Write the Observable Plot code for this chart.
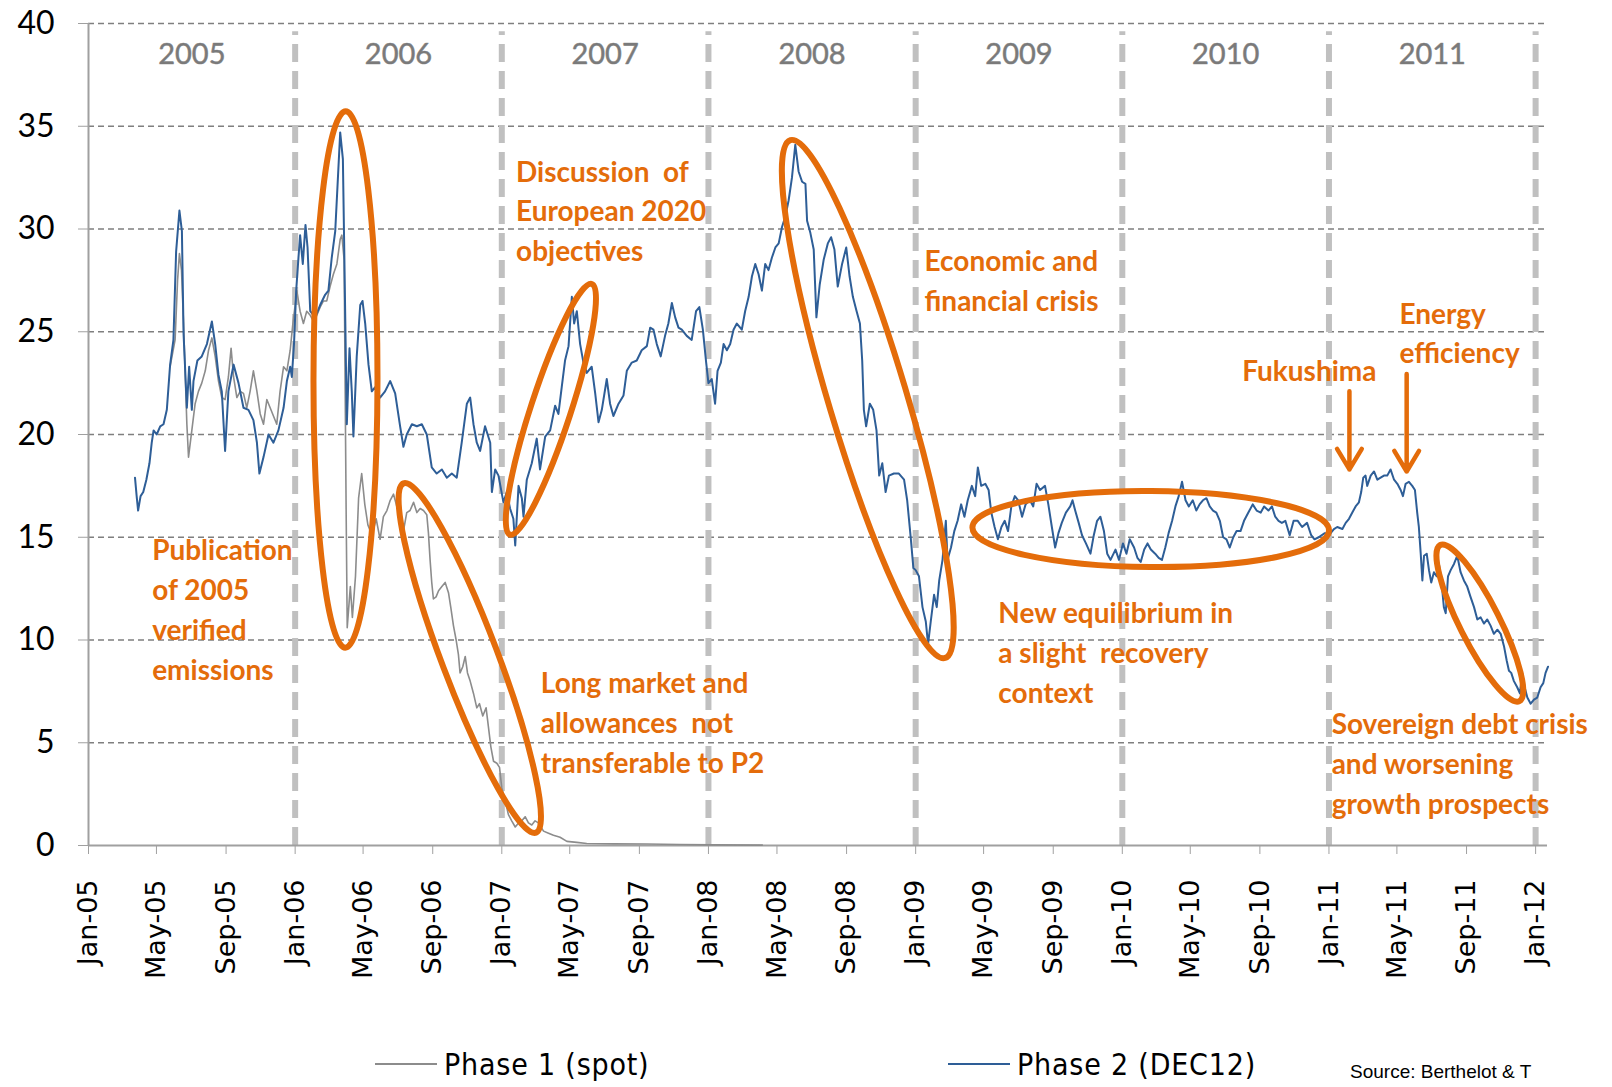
<!DOCTYPE html>
<html><head><meta charset="utf-8">
<script src="https://cdn.jsdelivr.net/npm/d3@7"></script>
<script src="https://cdn.jsdelivr.net/npm/@observablehq/plot@0.6"></script>
<style>
body{margin:0;background:#fff;}
#wrap{position:relative;width:1612px;height:1087px;overflow:hidden;background:#fff;}
#legend{position:absolute;left:0;top:1040px;width:1300px;height:47px;font-family:"DejaVu Sans Condensed","Liberation Sans Narrow",sans-serif;font-size:30px;letter-spacing:0.8px;color:#000;}
.item{position:absolute;top:6px;height:36px;display:flex;align-items:center;}
.sw{display:inline-block;width:62px;height:0;border-top:2.5px solid;margin-right:7px;}
#source{position:absolute;left:1350px;top:1061px;font-family:"Liberation Sans",Arial,sans-serif;font-size:19px;line-height:22px;color:#000;white-space:nowrap;}
</style></head>
<body><div id="wrap"><div id="chart"></div>
<div id="legend"></div>
<div id="source">Source: Berthelot &amp; T</div>
</div>
<script>
// ---- data (decimal year, €/t) ----
const phase1 = [[2005.395,23.3],[2005.419,24.6],[2005.431,27.5],[2005.440,28.8],[2005.450,28.0],[2005.460,25.4],[2005.476,20.5],[2005.484,18.9],[2005.500,20.2],[2005.516,21.5],[2005.532,22.1],[2005.548,22.5],[2005.565,23.1],[2005.581,24.1],[2005.597,24.7],[2005.613,23.8],[2005.629,22.6],[2005.645,21.8],[2005.661,21.7],[2005.677,22.8],[2005.690,24.2],[2005.702,22.8],[2005.718,21.8],[2005.734,22.1],[2005.750,22.0],[2005.766,21.3],[2005.782,22.1],[2005.798,23.1],[2005.815,22.1],[2005.831,21.0],[2005.847,20.5],[2005.863,21.7],[2005.879,21.3],[2005.895,20.9],[2005.911,20.5],[2005.927,22.1],[2005.944,23.3],[2005.960,23.1],[2005.976,24.1],[2005.989,25.4],[2006.000,26.3],[2006.008,27.0],[2006.024,26.0],[2006.040,25.4],[2006.056,26.0],[2006.073,25.8],[2006.089,25.5],[2006.105,25.8],[2006.121,26.2],[2006.137,26.5],[2006.153,26.5],[2006.169,27.2],[2006.185,27.8],[2006.202,28.3],[2006.218,29.5],[2006.226,29.7],[2006.237,28.5],[2006.247,16.0],[2006.252,10.6],[2006.267,12.6],[2006.277,11.1],[2006.292,13.1],[2006.307,16.9],[2006.322,18.1],[2006.337,16.6],[2006.352,15.6],[2006.372,15.1],[2006.392,15.9],[2006.411,14.9],[2006.427,16.0],[2006.444,16.3],[2006.460,16.8],[2006.476,17.1],[2006.492,16.5],[2006.508,16.2],[2006.524,15.3],[2006.540,16.2],[2006.556,16.3],[2006.573,16.7],[2006.589,16.2],[2006.605,16.4],[2006.621,16.3],[2006.637,16.1],[2006.645,15.2],[2006.653,13.9],[2006.661,12.8],[2006.669,12.0],[2006.682,12.1],[2006.694,12.4],[2006.710,12.6],[2006.726,12.8],[2006.742,12.3],[2006.753,11.6],[2006.766,10.7],[2006.779,10.0],[2006.790,9.3],[2006.798,8.4],[2006.811,8.7],[2006.823,9.2],[2006.834,8.4],[2006.847,8.0],[2006.863,7.4],[2006.879,6.7],[2006.892,6.9],[2006.908,6.3],[2006.924,6.7],[2006.935,5.8],[2006.947,4.8],[2006.960,4.1],[2006.976,4.0],[2006.989,3.8],[2007.000,2.8],[2007.016,2.2],[2007.032,1.5],[2007.048,1.2],[2007.065,0.9],[2007.081,1.1],[2007.097,1.2],[2007.113,1.4],[2007.129,1.1],[2007.145,1.0],[2007.161,1.2],[2007.177,1.1],[2007.202,0.7],[2007.226,0.6],[2007.250,0.5],[2007.282,0.4],[2007.315,0.2],[2007.363,0.15],[2007.411,0.1],[2007.540,0.08],[2007.702,0.07],[2007.863,0.05],[2008.024,0.03],[2008.260,0.02]];

const phase2 = [[2005.225,17.9],[2005.233,17.0],[2005.240,16.3],[2005.252,17.0],[2005.265,17.2],[2005.280,17.8],[2005.295,18.6],[2005.306,19.6],[2005.315,20.2],[2005.330,20.0],[2005.347,20.4],[2005.363,20.5],[2005.379,21.2],[2005.395,23.4],[2005.411,24.6],[2005.424,28.9],[2005.440,30.9],[2005.452,29.9],[2005.460,24.9],[2005.476,21.3],[2005.487,23.3],[2005.500,21.2],[2005.508,22.6],[2005.527,23.6],[2005.548,23.8],[2005.573,24.4],[2005.597,25.5],[2005.613,24.4],[2005.629,22.9],[2005.645,22.1],[2005.661,19.2],[2005.677,22.1],[2005.702,23.4],[2005.726,22.5],[2005.750,21.3],[2005.774,21.2],[2005.798,20.7],[2005.815,19.6],[2005.827,18.1],[2005.847,18.9],[2005.871,20.0],[2005.895,19.6],[2005.919,20.2],[2005.944,21.3],[2005.960,22.6],[2005.976,23.3],[2005.984,22.8],[2005.995,24.5],[2006.005,27.0],[2006.016,28.6],[2006.024,29.7],[2006.037,28.3],[2006.050,30.2],[2006.060,29.1],[2006.073,26.0],[2006.097,25.7],[2006.121,26.3],[2006.145,26.8],[2006.161,27.0],[2006.177,28.6],[2006.194,29.9],[2006.205,32.1],[2006.218,34.7],[2006.231,33.4],[2006.237,29.4],[2006.250,20.5],[2006.263,24.2],[2006.274,22.1],[2006.282,19.9],[2006.298,23.8],[2006.315,26.3],[2006.326,26.5],[2006.339,25.4],[2006.355,23.4],[2006.371,22.1],[2006.387,22.3],[2006.411,21.8],[2006.435,22.1],[2006.460,22.6],[2006.484,22.0],[2006.508,20.4],[2006.524,19.4],[2006.540,20.0],[2006.565,20.5],[2006.589,20.4],[2006.613,20.5],[2006.637,20.0],[2006.661,18.4],[2006.685,18.1],[2006.710,18.3],[2006.734,17.9],[2006.758,18.1],[2006.782,17.9],[2006.806,19.6],[2006.831,21.5],[2006.847,21.8],[2006.863,20.5],[2006.879,19.6],[2006.895,19.2],[2006.919,20.4],[2006.944,19.6],[2006.952,17.2],[2006.968,18.3],[2006.984,18.0],[2007.008,16.7],[2007.024,17.2],[2007.040,16.4],[2007.056,15.9],[2007.065,14.6],[2007.081,17.5],[2007.097,16.9],[2007.105,16.0],[2007.121,17.8],[2007.145,18.6],[2007.169,19.8],[2007.185,18.3],[2007.210,19.9],[2007.234,20.2],[2007.258,21.4],[2007.274,21.0],[2007.290,22.3],[2007.306,23.6],[2007.323,24.3],[2007.339,26.7],[2007.350,25.4],[2007.363,26.0],[2007.379,24.4],[2007.395,23.5],[2007.411,23.0],[2007.435,23.3],[2007.452,22.0],[2007.468,20.6],[2007.484,21.2],[2007.508,22.7],[2007.524,21.5],[2007.540,20.9],[2007.565,21.5],[2007.589,21.9],[2007.605,23.1],[2007.629,23.5],[2007.653,23.6],[2007.677,24.1],[2007.702,24.3],[2007.718,25.2],[2007.734,25.1],[2007.750,24.4],[2007.769,23.8],[2007.790,24.8],[2007.806,25.4],[2007.823,26.4],[2007.839,25.7],[2007.855,25.2],[2007.871,25.1],[2007.895,24.8],[2007.919,24.6],[2007.940,26.0],[2007.956,26.2],[2007.973,25.1],[2007.989,23.5],[2008.000,22.5],[2008.016,22.7],[2008.032,21.5],[2008.044,23.1],[2008.060,23.5],[2008.073,24.4],[2008.089,24.1],[2008.105,24.4],[2008.121,25.1],[2008.137,25.4],[2008.161,25.1],[2008.177,26.0],[2008.194,26.7],[2008.210,27.7],[2008.226,28.3],[2008.242,27.8],[2008.258,27.0],[2008.274,28.3],[2008.290,28.0],[2008.306,28.6],[2008.323,29.1],[2008.339,29.3],[2008.355,30.1],[2008.371,30.6],[2008.387,31.4],[2008.403,32.5],[2008.419,34.1],[2008.435,32.8],[2008.452,32.3],[2008.468,32.2],[2008.476,30.4],[2008.492,29.8],[2008.508,29.0],[2008.521,25.7],[2008.537,27.3],[2008.556,28.5],[2008.576,29.3],[2008.592,29.6],[2008.608,29.0],[2008.624,27.2],[2008.645,28.3],[2008.665,29.1],[2008.681,27.7],[2008.697,26.7],[2008.715,26.0],[2008.731,25.4],[2008.742,23.6],[2008.750,21.2],[2008.761,20.4],[2008.779,21.5],[2008.795,21.2],[2008.811,20.2],[2008.824,18.0],[2008.839,18.6],[2008.855,17.2],[2008.871,18.0],[2008.895,18.1],[2008.919,18.1],[2008.944,17.8],[2008.959,16.8],[2008.976,15.0],[2008.989,13.5],[2009.000,13.4],[2009.016,13.1],[2009.033,11.6],[2009.049,10.9],[2009.060,9.8],[2009.073,10.9],[2009.089,12.2],[2009.102,11.6],[2009.114,12.9],[2009.130,13.9],[2009.146,15.8],[2009.154,13.9],[2009.171,14.5],[2009.187,15.3],[2009.203,15.8],[2009.220,16.6],[2009.236,16.0],[2009.252,16.8],[2009.272,17.5],[2009.288,17.0],[2009.301,18.4],[2009.317,17.5],[2009.337,17.6],[2009.353,17.3],[2009.366,16.2],[2009.382,15.5],[2009.398,14.9],[2009.415,15.5],[2009.431,15.8],[2009.447,15.3],[2009.463,16.5],[2009.480,17.0],[2009.496,16.8],[2009.515,16.0],[2009.532,16.6],[2009.553,16.8],[2009.569,16.5],[2009.585,17.6],[2009.602,17.3],[2009.626,17.5],[2009.642,16.6],[2009.659,15.5],[2009.675,14.5],[2009.691,15.2],[2009.707,15.7],[2009.727,16.2],[2009.748,16.5],[2009.759,16.8],[2009.772,16.3],[2009.789,15.7],[2009.805,15.1],[2009.824,14.7],[2009.846,14.2],[2009.862,15.1],[2009.878,15.8],[2009.894,16.0],[2009.911,15.3],[2009.927,14.2],[2009.943,13.9],[2009.967,14.4],[2009.984,13.9],[2010.003,14.7],[2010.020,14.2],[2010.036,14.9],[2010.057,14.5],[2010.073,14.0],[2010.089,13.8],[2010.106,14.4],[2010.122,14.7],[2010.138,14.4],[2010.159,14.2],[2010.176,14.0],[2010.192,13.9],[2010.208,14.5],[2010.224,15.2],[2010.241,15.8],[2010.257,16.5],[2010.273,17.0],[2010.289,17.7],[2010.306,16.8],[2010.322,16.5],[2010.341,16.8],[2010.358,16.3],[2010.374,16.6],[2010.390,16.8],[2010.407,16.9],[2010.423,16.5],[2010.439,16.3],[2010.455,16.2],[2010.472,15.8],[2010.488,15.0],[2010.504,14.9],[2010.520,14.5],[2010.537,15.0],[2010.553,15.3],[2010.572,15.3],[2010.589,15.8],[2010.610,16.2],[2010.631,16.6],[2010.650,16.3],[2010.670,16.2],[2010.686,16.5],[2010.707,16.3],[2010.724,16.5],[2010.740,16.0],[2010.756,15.8],[2010.772,15.7],[2010.789,15.8],[2010.810,15.1],[2010.829,15.8],[2010.849,15.8],[2010.870,15.5],[2010.894,15.7],[2010.914,15.1],[2010.930,14.9],[2010.950,15.0],[2010.980,15.2],[2011.008,15.2],[2011.024,15.4],[2011.040,15.5],[2011.065,15.4],[2011.081,15.7],[2011.097,15.9],[2011.113,16.2],[2011.129,16.5],[2011.145,16.7],[2011.156,17.2],[2011.166,17.9],[2011.177,18.0],[2011.185,17.5],[2011.202,18.0],[2011.218,18.2],[2011.234,17.8],[2011.250,17.9],[2011.266,18.0],[2011.282,18.0],[2011.298,18.3],[2011.315,17.8],[2011.331,17.6],[2011.347,17.3],[2011.358,17.0],[2011.371,17.6],[2011.387,17.7],[2011.403,17.5],[2011.416,17.3],[2011.427,16.2],[2011.435,15.5],[2011.444,14.2],[2011.452,12.9],[2011.460,14.1],[2011.473,14.2],[2011.484,13.4],[2011.495,12.8],[2011.508,13.3],[2011.521,13.1],[2011.532,13.7],[2011.544,12.9],[2011.556,11.6],[2011.565,11.3],[2011.576,13.1],[2011.589,13.4],[2011.605,13.7],[2011.621,14.1],[2011.637,13.3],[2011.653,12.9],[2011.669,12.6],[2011.685,12.1],[2011.702,11.6],[2011.718,11.0],[2011.734,11.1],[2011.750,10.8],[2011.766,11.0],[2011.782,10.7],[2011.798,10.3],[2011.815,10.5],[2011.831,10.3],[2011.847,9.7],[2011.860,9.0],[2011.871,8.5],[2011.882,8.4],[2011.895,8.0],[2011.911,7.7],[2011.924,7.4],[2011.935,8.4],[2011.947,7.7],[2011.960,7.2],[2011.976,6.9],[2011.992,7.1],[2012.008,7.2],[2012.024,7.7],[2012.037,7.9],[2012.048,8.4],[2012.060,8.7]];

const yTicks = [0,5,10,15,20,25,30,35,40];
const yearLabels = [2005,2006,2007,2008,2009,2010,2011];
const yearBreaks = [2006,2007,2008,2009,2010,2011,2012];
const seriesNames = ["Phase 1 (spot)", "Phase 2 (DEC12)"];

// annotations (data coordinates)
const notes = [
  {t:2005.308, v:11.4, text:"Publication\nof 2005\nverified\nemissions"},
  {t:2007.069, v:30.8, text:"Discussion  of\nEuropean 2020\nobjectives"},
  {t:2007.189, v:5.9, text:"Long market and\nallowances  not\ntransferable to P2"},
  {t:2009.043, v:27.4, text:"Economic and\nfinancial crisis"},
  {t:2009.400, v:9.3, text:"New equilibrium in\na slight  recovery\ncontext"},
  {t:2010.580, v:23.05, text:"Fukushima"},
  {t:2011.341, v:24.85, text:"Energy\nefficiency"},
  {t:2011.013, v:3.9, text:"Sovereign debt crisis\nand worsening\ngrowth prospects"}
];
const ellipses = [
  {t1:2006.247, v1:35.7, t2:2006.245, v2:9.6, hw:32},
  {t1:2006.527, v1:17.6, t2:2007.168, v2:0.6, hw:28},
  {t1:2007.042, v1:15.1, t2:2007.438, v2:27.3, hw:20},
  {t1:2008.398, v1:34.3, t2:2009.145, v2:9.1, hw:39},
  {t1:2009.277, v1:15.45, t2:2011.003, v2:15.3, hw:38},
  {t1:2011.541, v1:14.6, t2:2011.924, v2:7.0, hw:20}
];
const arrows = [
  {t:2011.099, v1:22.1, v2:18.3},
  {t:2011.376, v1:22.95, v2:18.2}
];

function toDate(t){const y=Math.floor(t);const s=Date.UTC(y,0,1),e=Date.UTC(y+1,0,1);return new Date(s+(t-y)*(e-s));}
const p1 = phase1.map(([t,v])=>({date:toDate(t), value:v}));
const p2 = phase2.map(([t,v])=>({date:toDate(t), value:v}));
const xTicks = d3.utcMonth.every(4).range(new Date(Date.UTC(2005,0,1)), new Date(Date.UTC(2012,0,2)));

const ORANGE = "#e46c0a";
const ellipseMark = (index, scales) => {
  const g = d3.create("svg:g").attr("fill","none").attr("stroke",ORANGE).attr("stroke-width",6);
  for (const e of ellipses) {
    const x1 = scales.x(toDate(e.t1)), y1 = scales.y(e.v1);
    const x2 = scales.x(toDate(e.t2)), y2 = scales.y(e.v2);
    const cx = (x1+x2)/2, cy = (y1+y2)/2;
    const a = Math.hypot(x2-x1, y2-y1)/2;
    const ang = Math.atan2(y2-y1, x2-x1)*180/Math.PI;
    g.append("ellipse").attr("cx",cx).attr("cy",cy).attr("rx",a).attr("ry",e.hw)
      .attr("transform",`rotate(${ang},${cx},${cy})`);
  }
  return g.node();
};

const chart = Plot.plot({
  width: 1612,
  height: 1040,
  marginTop: 23,
  marginBottom: 195,
  marginLeft: 88,
  marginRight: 65,
  style: {fontFamily: "Lato, sans-serif", background: "white", overflow: "visible"},
  x: {type: "utc", domain: [new Date(Date.UTC(2005,0,1)), new Date(Date.UTC(2012,0,22))]},
  y: {domain: [0, 40]},
  marks: [
    Plot.ruleY(yTicks.filter(d => d > 0), {stroke: "#7f7f7f", strokeWidth: 1.5, strokeDasharray: "6,4"}),
    Plot.ruleX(yearBreaks.map(toDate), {y1: 0, y2: 39.6, stroke: "#c0c0c0", strokeWidth: 6, strokeDasharray: "18,9"}),
    Plot.text(yearLabels, {x: d => toDate(d + 0.5), y: 38.5, text: d => String(d), fontSize: 29, fill: "#7a7a7a", stroke: "#9a9a9a", strokeWidth: 0.6, fontFamily: "Lato, sans-serif"}),
    Plot.ruleY([0], {stroke: "#a0a0a0", strokeWidth: 2}),
    Plot.ruleX([toDate(2005)], {y1: 0, y2: 40, stroke: "#a0a0a0", strokeWidth: 2}),
    Plot.axisY({ticks: yTicks, tickSize: 10, tickPadding: 24, fontSize: 32, stroke: "#a0a0a0", fill: "#000", fontFamily: "Lato, sans-serif", label: null}),
    Plot.axisX({ticks: xTicks, tickFormat: d3.utcFormat("%b-%y"), tickRotate: -90, textAnchor: "end", tickSize: 9, tickPadding: 25, fontSize: 27, stroke: "#a0a0a0", fill: "#000", fontFamily: "DejaVu Sans, sans-serif", label: null}),
    Plot.line(p1, {x: "date", y: "value", stroke: "#8c8c8c", strokeWidth: 1.6}),
    Plot.line(p2, {x: "date", y: "value", stroke: "#2e5e97", strokeWidth: 2}),
    ellipseMark,
    Plot.arrow(arrows, {x1: d => toDate(d.t), x2: d => toDate(d.t), y1: "v1", y2: "v2", stroke: ORANGE, strokeWidth: 4.5, headLength: 8, headAngle: 62}),
    Plot.text(notes, {x: d => toDate(d.t), y: "v", text: "text", textAnchor: "start", lineAnchor: "middle", lineHeight: 1.42, dy: -4, fontSize: 28, fontWeight: "bold", fill: ORANGE, fontFamily: "Lato, sans-serif", letterSpacing: 2.6})
  ]
});
document.getElementById("chart").appendChild(chart);

// legend
const legend = document.getElementById("legend");
const legendColors = ["#8c8c8c", "#2e5e97"];
const legendLeft = [375, 948];
seriesNames.forEach((name, i) => {
  const it = document.createElement("div");
  it.className = "item";
  it.style.left = legendLeft[i] + "px";
  it.innerHTML = `<span class="sw" style="border-color:${legendColors[i]}"></span><span>${name}</span>`;
  legend.appendChild(it);
});
</script>
</body></html>
